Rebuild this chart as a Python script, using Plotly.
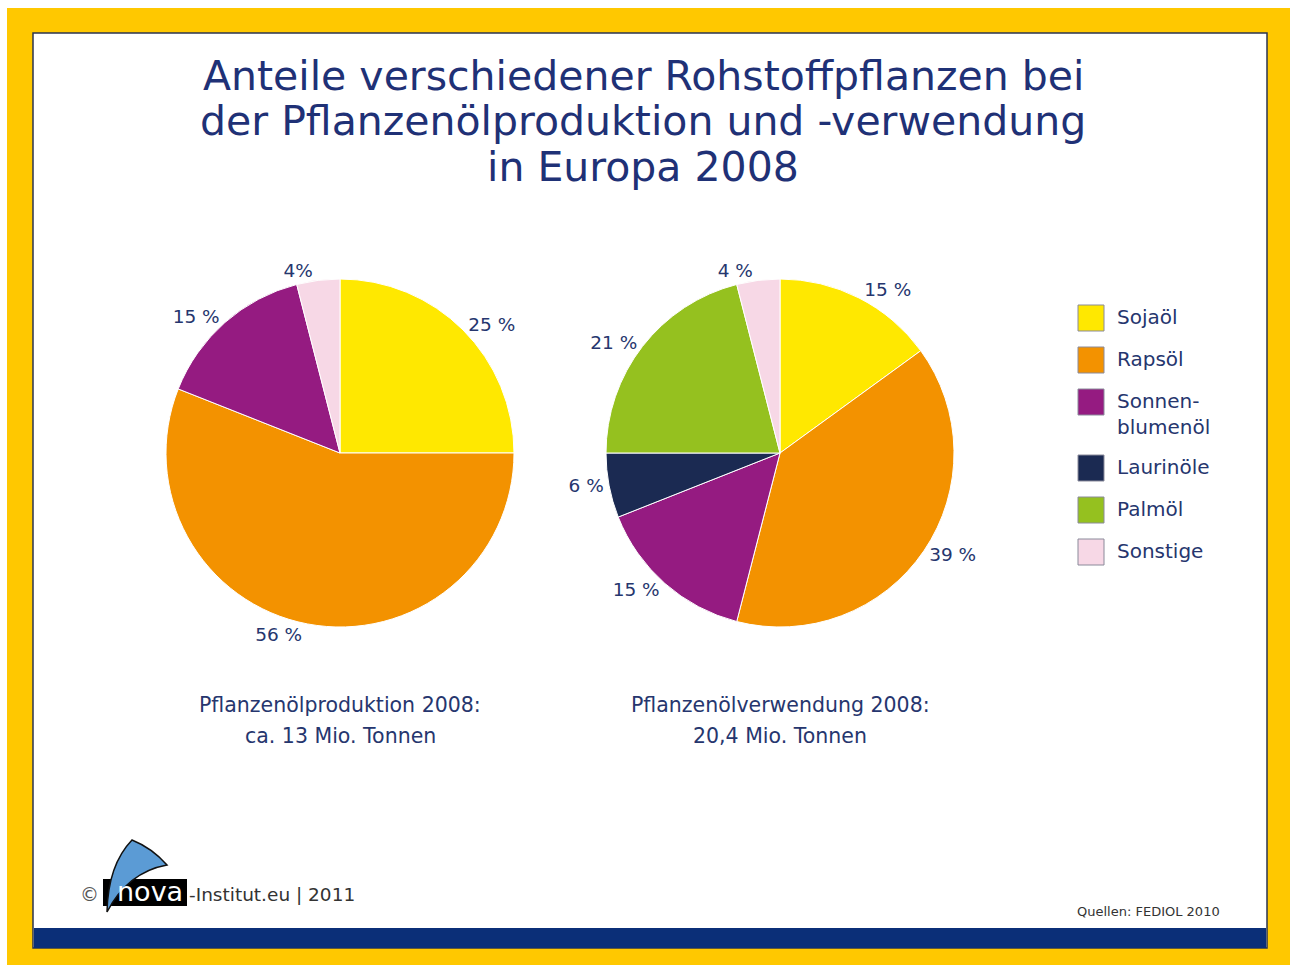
import plotly.graph_objects as go

W, H = 1290, 965

# ---------------- data ----------------
categories = ["Sojaöl", "Rapsöl", "Sonnenblumenöl", "Laurinöle", "Palmöl", "Sonstige"]
legend_labels = ["Sojaöl", "Rapsöl", "Sonnen-<br>blumenöl", "Laurinöle", "Palmöl", "Sonstige"]
colors = ["#FFE800", "#F39200", "#951B81", "#1B2A52", "#95C11F", "#F7D8E6"]

prod_categories = ["Sojaöl", "Rapsöl", "Sonnenblumenöl", "Sonstige"]
prod_values = [25, 56, 15, 4]
prod_text = ["25 %", "56 %", "15 %", "4%"]

use_categories = ["Sojaöl", "Rapsöl", "Sonnenblumenöl", "Laurinöle", "Palmöl", "Sonstige"]
use_values = [15, 39, 15, 6, 21, 4]
use_text = ["15 %", "39 %", "15 %", "6 %", "21 %", "4 %"]

title_lines = ["Anteile verschiedener Rohstoffpflanzen bei",
               "der Pflanzenölproduktion und -verwendung",
               "in Europa 2008"]
prod_caption = ["Pflanzenölproduktion 2008:", "ca. 13 Mio. Tonnen"]
use_caption = ["Pflanzenölverwendung 2008:", "20,4 Mio. Tonnen"]
source_text = "Quellen: FEDIOL 2010"

FONT = "DejaVu Sans"
NAVY = "#26366E"
cmap = dict(zip(categories, colors))


def px(x):
    return x / W


def py(y):
    return 1 - y / H


def pie_domain(cx, cy, r):
    return dict(x=[px(cx - r), px(cx + r)], y=[py(cy + r), py(cy - r)])


fig = go.Figure()

for cats, vals, txt, (cx, cy) in [
    (prod_categories, prod_values, prod_text, (340, 453)),
    (use_categories, use_values, use_text, (780, 453)),
]:
    fig.add_trace(go.Pie(
        labels=cats, values=vals, text=txt, textinfo="text",
        textposition="outside", sort=False, direction="clockwise", rotation=0,
        marker=dict(colors=[cmap[c] for c in cats], line=dict(color="white", width=1)),
        textfont=dict(family=FONT, size=18.5, color=NAVY),
        domain=pie_domain(cx, cy, 174), showlegend=False, hoverinfo="label+percent",
    ))

shapes = []
annotations = []


def rect(x0, y0, x1, y1, fill, line_color=None, lw=0, layer="below"):
    shapes.append(dict(type="rect", xref="paper", yref="paper",
                       x0=max(px(x0), 0), x1=min(px(x1), 1), y0=max(py(y1), 0), y1=min(py(y0), 1),
                       fillcolor=fill, line=dict(color=line_color or fill, width=lw),
                       layer=layer))


def text(t, x, y, size, color=NAVY, xanchor="center", yanchor="middle", family=FONT, align="center"):
    annotations.append(dict(text=t, x=px(x), y=py(y), xref="paper", yref="paper",
                            showarrow=False, xanchor=xanchor, yanchor=yanchor, align=align,
                            font=dict(family=family, size=size, color=color)))


# frame
rect(7, 8, 1290, 965, "#FFC800")
rect(33, 33, 1267, 948, "#FFFFFF", "#2B3550", 1.5)
rect(34, 928, 1266, 948, "#0B2F78")

# title
for i, t in enumerate(title_lines):
    text(t, 643, 76 + i * 45.5, 41, color="#1F3176")

# captions
for cx, lines in [(340, prod_caption), (780, use_caption)]:
    for i, t in enumerate(lines):
        text(t, cx, 705 + i * 31, 20.5)

# legend
yc = 318
for lab, col in zip(legend_labels, colors):
    nlines = lab.count("<br>") + 1
    rect(1078, yc - 13, 1104, yc + 13, col, "#8A8A9A", 1)
    text(lab, 1115, yc - 15, 20, xanchor="left", yanchor="top", align="left")
    yc += 42 + (nlines - 1) * 24

# source
text(source_text, 1222, 911, 13, color="#333333", xanchor="right")

# logo
rect(103, 879, 187, 906, "#000000", layer="above")
shapes.append(dict(type="path", xref="paper", yref="paper",
                   path=("M {} {} Q {} {} {} {} Q {} {} {} {} Q {} {} {} {} Z").format(
                       px(107), py(912), px(108), py(865), px(132), py(840),
                       px(152), py(848), px(167), py(865),
                       px(128), py(872), px(107), py(912)),
                   fillcolor="#5B9BD5", line=dict(color="#111111", width=1.5), layer="above"))
text("©", 89, 894, 19, color="#555555")
text("nova", 150, 891, 27, color="#FFFFFF")
text("-Institut.eu | 2011", 187, 894, 18.5, color="#333333", xanchor="left")

fig.update_layout(
    width=W, height=H, margin=dict(l=0, r=0, t=0, b=0),
    paper_bgcolor="white", plot_bgcolor="white",
    shapes=shapes, annotations=annotations,
)

fig.write_html("out.html", config={"displayModeBar": False},
               post_script="document.body.style.margin='0';document.body.style.overflow='hidden';")
